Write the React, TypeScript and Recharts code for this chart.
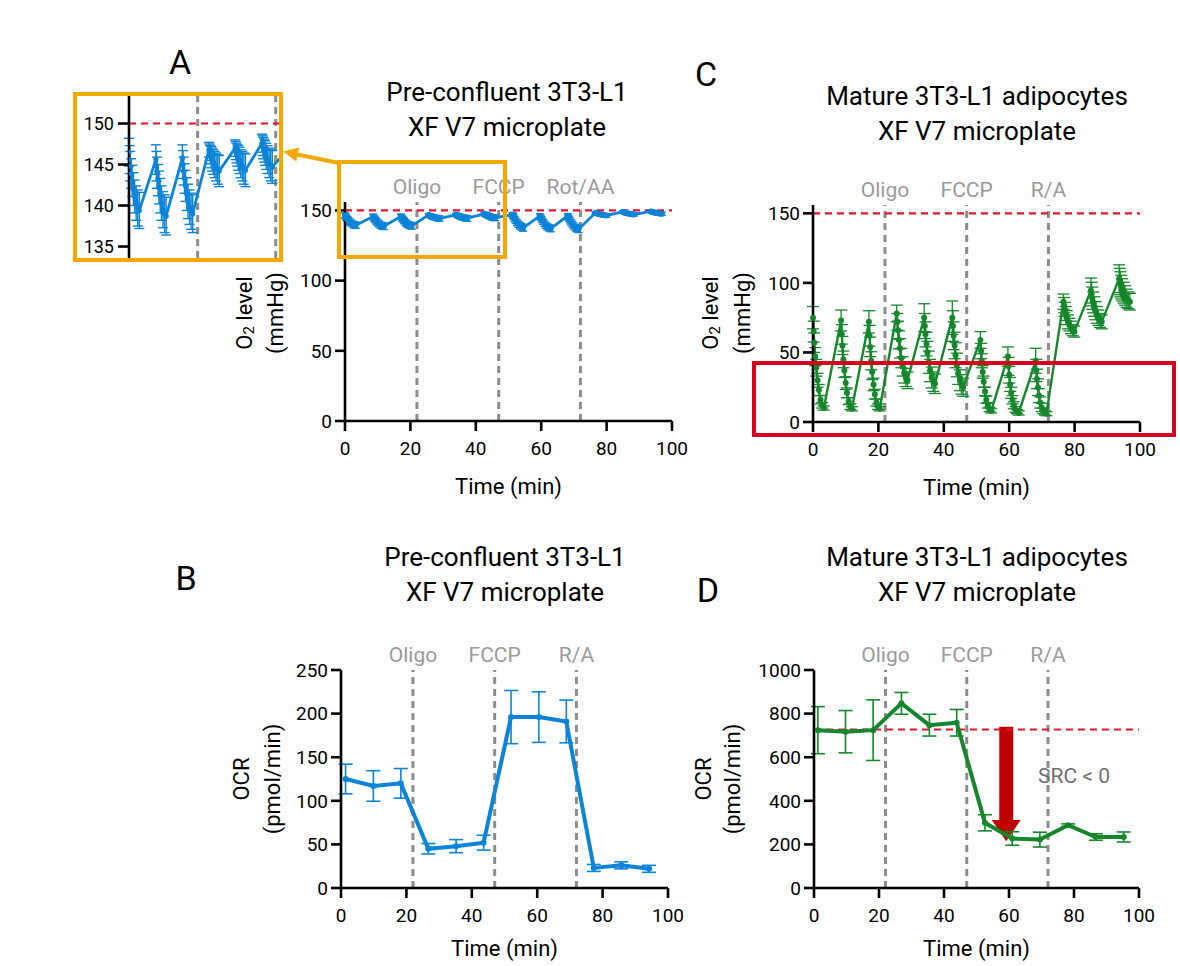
import React from 'react';
import { ComposedChart, Line, XAxis, YAxis, ReferenceLine, ReferenceArea, ReferenceDot, ErrorBar } from 'recharts';

const FONT = 'Roboto, "Noto Sans", sans-serif';
const BLUE = '#0a83d8';
const GREEN = '#15872b';
const RED_DASH = '#e8112d';
const GREY_DASH = '#8c8c8c';
const ORANGE = '#f5a800';

// O2 trace time points (min), 12 measurement cycles
const o2Time = [
  0, 0.2, 0.4, 0.7, 1.0, 1.4, 1.8, 2.3, 2.8, 3.3,
  8.6, 8.8, 9.0, 9.3, 9.6, 10.0, 10.4, 10.9, 11.4, 11.9,
  17.1, 17.3, 17.5, 17.8, 18.1, 18.5, 18.9, 19.4, 19.9, 20.4,
  25.6, 25.8, 26.0, 26.3, 26.6, 27.0, 27.4, 27.9, 28.4, 28.9,
  34.0, 34.2, 34.4, 34.7, 35.0, 35.4, 35.8, 36.3, 36.8, 37.3,
  42.6, 42.8, 43.0, 43.3, 43.6, 44.0, 44.4, 44.9, 45.4, 45.9,
  51.2, 51.4, 51.6, 51.9, 52.2, 52.6, 53.0, 53.5, 54.0, 54.5,
  59.6, 59.8, 60.0, 60.3, 60.6, 61.0, 61.4, 61.9, 62.4, 62.9,
  68.1, 68.3, 68.5, 68.8, 69.1, 69.5, 69.9, 70.4, 70.9, 71.4,
  76.6, 76.8, 77.0, 77.3, 77.6, 78.0, 78.4, 78.9, 79.4, 79.9,
  85.0, 85.2, 85.4, 85.7, 86.0, 86.4, 86.8, 87.3, 87.8, 88.3,
  93.6, 93.8, 94.0, 94.3, 94.6, 95.0, 95.4, 95.9, 96.4, 96.9,
];

// pre-confluent O2 level (mmHg)
const preO2 = [
  146.5, 145.6, 144.8, 143.9, 143.0, 142.0, 141.1, 140.3, 139.7, 139.4,
  145.6, 144.8, 144.0, 143.1, 142.2, 141.2, 140.3, 139.5, 139.0, 138.7,
  145.8, 145.0, 144.2, 143.3, 142.4, 141.4, 140.5, 139.8, 139.3, 139.0,
  146.8, 146.5, 146.2, 145.9, 145.6, 145.3, 145.0, 144.7, 144.4, 144.2,
  147.0, 146.7, 146.4, 146.1, 145.8, 145.5, 145.1, 144.8, 144.5, 144.3,
  147.6, 147.3, 147.0, 146.7, 146.4, 146.0, 145.6, 145.2, 144.9, 144.7,
  147.0, 146.0, 145.0, 143.8, 142.6, 141.3, 140.1, 139.0, 138.2, 137.6,
  146.2, 145.2, 144.2, 143.0, 141.8, 140.5, 139.3, 138.3, 137.6, 137.1,
  146.2, 145.1, 144.0, 142.8, 141.5, 140.2, 139.0, 137.9, 137.1, 136.6,
  148.3, 148.1, 147.9, 147.7, 147.4, 147.2, 147.0, 146.8, 146.6, 146.4,
  149.0, 148.8, 148.6, 148.4, 148.1, 147.9, 147.7, 147.5, 147.3, 147.1,
  149.3, 149.1, 148.9, 148.7, 148.5, 148.3, 148.1, 147.9, 147.7, 147.6,
];

const preO2Err = [
  1.7, 1.7, 1.8, 1.8, 1.9, 2.0, 2.0, 2.1, 2.2, 2.2,
  1.8, 1.8, 1.9, 1.9, 2.0, 2.1, 2.1, 2.2, 2.3, 2.3,
  1.6, 1.7, 1.7, 1.8, 1.9, 2.0, 2.1, 2.1, 2.2, 2.3,
  0.9, 1.0, 1.1, 1.3, 1.4, 1.5, 1.6, 1.7, 1.8, 1.9,
  1.0, 1.1, 1.2, 1.3, 1.5, 1.6, 1.7, 1.8, 1.9, 2.0,
  1.1, 1.2, 1.3, 1.4, 1.5, 1.6, 1.7, 1.8, 1.9, 2.0,
  1.5, 1.6, 1.7, 1.8, 1.9, 2.0, 2.1, 2.2, 2.3, 2.4,
  1.4, 1.5, 1.6, 1.7, 1.8, 1.9, 2.0, 2.1, 2.2, 2.3,
  1.5, 1.6, 1.7, 1.8, 1.9, 2.0, 2.1, 2.2, 2.3, 2.4,
  0.8, 0.8, 0.9, 0.9, 1.0, 1.0, 1.0, 1.1, 1.1, 1.2,
  0.7, 0.8, 0.8, 0.9, 0.9, 1.0, 1.0, 1.1, 1.1, 1.1,
  0.7, 0.7, 0.8, 0.8, 0.9, 0.9, 1.0, 1.0, 1.1, 1.1,
];

// mature adipocytes O2 level (mmHg)
const matO2 = [
  75, 65, 57, 47, 39, 30, 23, 16, 12, 10,
  73, 63, 55, 45, 37, 28, 21, 15, 11, 9.5,
  72, 62, 54, 44, 36, 27, 20, 14, 11, 9.5,
  78, 72, 66, 59, 53, 46, 40, 35, 32, 30,
  75, 69, 63, 56, 50, 43, 37, 32, 29, 27.5,
  75, 69, 62, 55, 48, 41, 35, 30, 27, 25,
  59, 51, 44, 36, 29, 22, 16, 12, 9, 8,
  47, 40, 34, 27, 21, 16, 12, 9, 7.5, 6.5,
  44, 37, 31, 25, 19, 14, 10.5, 8, 6.5, 6,
  86.5, 84, 81, 78, 75, 72, 70, 68, 66, 65,
  94.5, 92, 89, 86, 83, 80, 77, 75, 73, 72,
  103, 101, 99, 97, 95, 93, 91, 89, 87.5, 86.5,
];

const matO2Err = [
  8, 7.5, 7, 6.5, 6, 5, 4, 3, 2, 1.5,
  7.5, 7, 6.5, 6, 5, 4.5, 3.5, 2.5, 2, 1.5,
  8, 7.5, 7, 6.5, 5.5, 4.5, 3.5, 2.5, 2, 1.5,
  6, 6, 6.5, 6.5, 7, 7, 7, 7, 6.5, 6,
  10, 9, 9, 8.5, 8, 8, 8, 7.5, 7, 7,
  12, 11, 10, 9.5, 9, 8.5, 8, 7.5, 7, 6.5,
  6, 5.5, 5, 4.5, 4, 3, 2.5, 2, 1.5, 1.5,
  7, 6.5, 6, 5, 4, 3, 2.5, 2, 1.5, 1.5,
  9, 8, 7, 6, 5, 4, 3, 2, 1.5, 1.5,
  5.5, 5.5, 5, 5, 5, 5, 4.5, 4.5, 4, 4,
  9, 8.5, 8, 7.5, 7, 6.5, 6, 5.5, 5, 5,
  10, 9.5, 9, 8.5, 8, 7.5, 7, 6.5, 6, 6,
];

// OCR (pmol/min)
const ocrPreTime = [1.4, 9.9, 18.3, 26.7, 35.2, 43.6, 52.0, 60.5, 68.9, 77.3, 85.7, 94.2];
const ocrPre = [125, 117, 120, 45, 48, 52, 196, 196, 191, 23, 26, 22];
const ocrPreErr = [17, 17.5, 17, 6, 7.5, 8.5, 30.5, 29, 24.5, 4, 4, 4];

const ocrMatTime = [1.2, 9.7, 18.2, 26.9, 35.5, 43.9, 52.6, 61.0, 69.5, 78.2, 86.7, 95.3];
const ocrMat = [724, 717, 724, 847, 747, 758, 299, 227, 222, 288, 234, 234];
const ocrMatErr = [108, 97, 139, 50, 50, 61, 37, 31, 34, 6, 15, 23];

const injections = [22, 47, 72];
const injLabelsA = ['Oligo', 'FCCP', 'Rot/AA'];
const injLabels = ['Oligo', 'FCCP', 'R/A'];
const timeTicks = [0, 20, 40, 60, 80, 100];

const o2Rows = o2Time.map((t, i) => ({ t, pre: preO2[i], preErr: preO2Err[i], mat: matO2[i], matErr: matO2Err[i] }));
const ocrPreRows = ocrPreTime.map((t, i) => ({ t, v: ocrPre[i], e: ocrPreErr[i] }));
const ocrMatRows = ocrMatTime.map((t, i) => ({ t, v: ocrMat[i], e: ocrMatErr[i] }));

const axisStroke = { stroke: '#000', strokeWidth: 2.6 };
const tickFont = { fill: '#000', fontSize: 19, fontFamily: FONT };

type PanelProps = {
  plot: [number, number, number, number];
  data: any[];
  yKey: string;
  errKey: string;
  color: string;
  yDomain: [number, number];
  yTicks: number[];
  labels: string[];
  baseline: number;
  dotR: number;
  lineW: number;
  errW: number;
  capW: number;
  xLabelOffset: number;
  children?: React.ReactNode;
};

function Panel(p: PanelProps) {
  const [l, t, r, b] = p.plot;
  const W = r - l + 135;
  const H = b - t + 117;
  return (
    <div style={{ position: 'absolute', left: l - 115, top: t - 30 }}>
      <ComposedChart width={W} height={H} data={p.data} margin={{ top: 30, right: 20, bottom: 12, left: 0 }}>
        <XAxis
          type="number"
          dataKey="t"
          domain={[0, 100]}
          ticks={timeTicks}
          height={75}
          axisLine={axisStroke}
          tickLine={axisStroke}
          tickSize={10}
          tickMargin={11}
          tick={tickFont}
          label={{ value: 'Time (min)', position: 'insideBottom', offset: p.xLabelOffset, fill: '#000', fontSize: 22, fontFamily: FONT }}
        />
        <YAxis
          type="number"
          domain={p.yDomain}
          ticks={p.yTicks}
          width={115}
          axisLine={axisStroke}
          tickLine={axisStroke}
          tickSize={10}
          tickMargin={3}
          tick={tickFont}
        />
        {injections.map((x, i) => (
          <ReferenceLine
            key={x}
            x={x}
            stroke={GREY_DASH}
            strokeWidth={3}
            strokeDasharray="7 5"
            label={{ value: p.labels[i], position: 'top', offset: 8, fill: '#9a9a9a', fontSize: 21, fontFamily: FONT }}
          />
        ))}
        <ReferenceLine y={p.baseline} stroke={RED_DASH} strokeWidth={2.2} strokeDasharray="7 5" />
        {p.children}
        <Line
          type="linear"
          dataKey={p.yKey}
          stroke={p.color}
          strokeWidth={p.lineW}
          dot={{ r: p.dotR, fill: p.color, stroke: p.color, strokeWidth: 0 }}
          isAnimationActive={false}
        >
          <ErrorBar dataKey={p.errKey} width={p.capW} stroke={p.color} strokeWidth={p.errW} />
        </Line>
      </ComposedChart>
    </div>
  );
}

function Inset() {
  return (
    <div style={{ position: 'absolute', left: 129 - 55, top: 94 }}>
      <ComposedChart width={55 + 152} height={164} data={o2Rows} margin={{ top: 0, right: 0, bottom: 0, left: 0 }}>
        <XAxis type="number" dataKey="t" domain={[0, 48.7]} hide allowDataOverflow />
        <YAxis
          type="number"
          domain={[133.6, 153.6]}
          ticks={[135, 140, 145, 150]}
          width={55}
          allowDataOverflow
          axisLine={axisStroke}
          tickLine={axisStroke}
          tickSize={11}
          tickMargin={4}
          tick={{ fill: '#000', fontSize: 18, fontFamily: FONT }}
        />
        <ReferenceLine x={22} stroke={GREY_DASH} strokeWidth={3} strokeDasharray="7 5" />
        <ReferenceLine x={47} stroke={GREY_DASH} strokeWidth={3} strokeDasharray="7 5" />
        <ReferenceLine y={150} stroke={RED_DASH} strokeWidth={2.2} strokeDasharray="7 5" />
        <Line type="linear" dataKey="pre" stroke={BLUE} strokeWidth={2.8} dot={{ r: 2.6, fill: BLUE, stroke: BLUE, strokeWidth: 0 }} isAnimationActive={false}>
          <ErrorBar dataKey="preErr" width={5} stroke={BLUE} strokeWidth={1.4} />
        </Line>
      </ComposedChart>
    </div>
  );
}

function Title({ cx, top, lines }: { cx: number; top: number; lines: string[] }) {
  return (
    <div style={{ position: 'absolute', left: cx - 250, top, width: 500, textAlign: 'center', fontSize: 26, lineHeight: '35px', color: '#000' }}>
      {lines.map((s) => (
        <div key={s}>{s}</div>
      ))}
    </div>
  );
}

function Letter({ cx, cy, ch }: { cx: number; cy: number; ch: string }) {
  return (
    <div style={{ position: 'absolute', left: cx - 25, top: cy - 19.5, width: 50, textAlign: 'center', fontSize: 34, lineHeight: '40px', color: '#000' }}>
      {ch}
    </div>
  );
}

function YLab({ x, y, children }: { x: number; y: number; children: React.ReactNode }) {
  return (
    <text x={x} y={y} transform={`rotate(-90 ${x} ${y})`} textAnchor="middle" dominantBaseline="central" fontSize={22} fontFamily={FONT} fill="#000">
      {children}
    </text>
  );
}

const O2Label = () => (
  <>
    O<tspan fontSize={15} dy={5}>2</tspan>
    <tspan dy={-5}> level</tspan>
  </>
);

export default function App() {
  return (
    <div style={{ position: 'absolute', left: 0, top: 0, width: 1180, height: 966, background: '#fff', fontFamily: FONT, overflow: 'hidden' }}>
      <Panel
        plot={[345, 202, 672, 421]}
        data={o2Rows}
        yKey="pre"
        errKey="preErr"
        color={BLUE}
        yDomain={[0, 156]}
        yTicks={[0, 50, 100, 150]}
        labels={injLabelsA}
        baseline={150}
        dotR={3}
        lineW={2.8}
        errW={1.4}
        capW={4}
        xLabelOffset={2}
      />
      <Panel
        plot={[813, 205, 1140, 422]}
        data={o2Rows}
        yKey="mat"
        errKey="matErr"
        color={GREEN}
        yDomain={[0, 156]}
        yTicks={[0, 50, 100, 150]}
        labels={injLabels}
        baseline={150}
        dotR={3}
        lineW={2.4}
        errW={1.3}
        capW={6}
        xLabelOffset={2}
      />
      <Panel
        plot={[341, 670, 668, 888]}
        data={ocrPreRows}
        yKey="v"
        errKey="e"
        color={BLUE}
        yDomain={[0, 250]}
        yTicks={[0, 50, 100, 150, 200, 250]}
        labels={injLabels}
        baseline={-10}
        dotR={3}
        lineW={4}
        errW={1.6}
        capW={7}
        xLabelOffset={7}
      />
      <Panel
        plot={[814, 670, 1139, 888]}
        data={ocrMatRows}
        yKey="v"
        errKey="e"
        color={GREEN}
        yDomain={[0, 1000]}
        yTicks={[0, 200, 400, 600, 800, 1000]}
        labels={injLabels}
        baseline={727}
        dotR={3}
        lineW={4}
        errW={1.6}
        capW={7}
        xLabelOffset={7}
      >
        <ReferenceArea x1={57} x2={61.3} y1={310} y2={740} fill="#c00000" fillOpacity={1} stroke="none" />
        <ReferenceArea
          x1={54.7}
          x2={63.6}
          y1={215}
          y2={312}
          fill="#c00000"
          fillOpacity={1}
          stroke="none"
          shape={(s: any) => (
            <polygon points={`${s.x},${s.y} ${s.x + s.width},${s.y} ${s.x + s.width / 2},${s.y + s.height}`} fill="#c00000" />
          )}
        />
        <ReferenceDot x={80} y={518} r={0} fill="none" stroke="none" label={{ value: 'SRC < 0', position: 'center', fill: '#707070', fontSize: 21, fontFamily: FONT }} />
      </Panel>

      <div style={{ position: 'absolute', left: 73, top: 92, width: 210, height: 170, background: '#fff' }} />
      <Inset />

      <Title cx={507} top={75} lines={['Pre-confluent 3T3-L1', 'XF V7 microplate']} />
      <Title cx={977} top={79} lines={['Mature 3T3-L1 adipocytes', 'XF V7 microplate']} />
      <Title cx={505} top={540} lines={['Pre-confluent 3T3-L1', 'XF V7 microplate']} />
      <Title cx={977} top={540} lines={['Mature 3T3-L1 adipocytes', 'XF V7 microplate']} />

      <Letter cx={180} cy={61} ch="A" />
      <Letter cx={706} cy={73} ch="C" />
      <Letter cx={186} cy={577} ch="B" />
      <Letter cx={708} cy={589} ch="D" />

      <div style={{ position: 'absolute', left: 73, top: 92, width: 210, height: 170, border: `4px solid ${ORANGE}`, boxSizing: 'border-box' }} />
      <div style={{ position: 'absolute', left: 337, top: 160, width: 170, height: 99, border: `4px solid ${ORANGE}`, boxSizing: 'border-box' }} />
      <div style={{ position: 'absolute', left: 752, top: 361, width: 424, height: 76, border: '4px solid #d6001c', boxSizing: 'border-box' }} />

      <svg width={1180} height={966} style={{ position: 'absolute', left: 0, top: 0, pointerEvents: 'none' }}>
        <line x1={339} y1={163} x2={296} y2={154.3} stroke={ORANGE} strokeWidth={4} />
        <polygon points="283,151.5 299.1,147.6 296.3,161.4" fill={ORANGE} />
        <YLab x={244} y={313}><O2Label /></YLab>
        <YLab x={275} y={313}>(mmHg)</YLab>
        <YLab x={710} y={313}><O2Label /></YLab>
        <YLab x={742} y={313}>(mmHg)</YLab>
        <YLab x={241} y={779}>OCR</YLab>
        <YLab x={272} y={779}>(pmol/min)</YLab>
        <YLab x={703} y={779}>OCR</YLab>
        <YLab x={732} y={779}>(pmol/min)</YLab>
      </svg>
    </div>
  );
}
